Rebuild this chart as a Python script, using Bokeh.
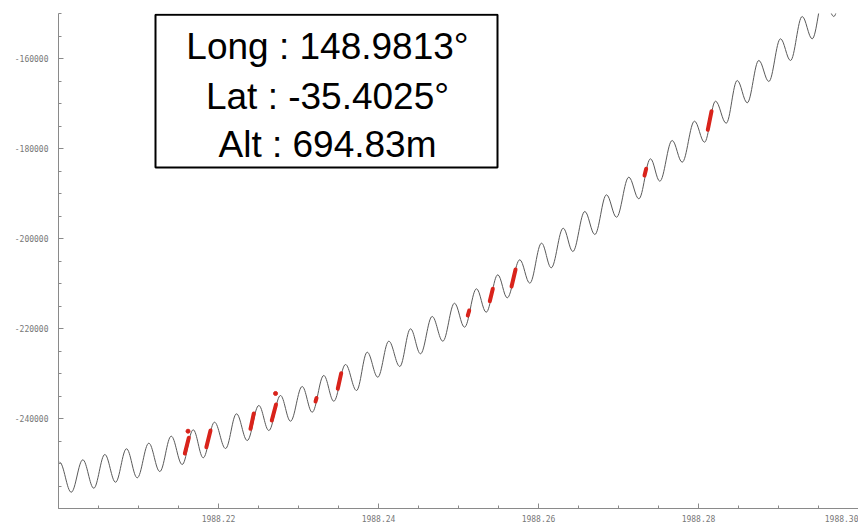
from bokeh.plotting import figure
from bokeh.models import Range1d, FixedTicker, PrintfTickFormatter, BoxAnnotation, Label
from bokeh.embed import file_html
from bokeh.resources import INLINE

# ---- data ----
peak_x = [1988.20013, 1988.20304, 1988.20579, 1988.20850, 1988.21129, 1988.21409, 1988.21684,
          1988.21950, 1988.22225, 1988.22504, 1988.22775, 1988.23046, 1988.23316, 1988.23588,
          1988.23859, 1988.24129, 1988.24400, 1988.24671, 1988.24950, 1988.25225, 1988.25491,
          1988.25766, 1988.26038, 1988.26309, 1988.26579, 1988.26850, 1988.27129, 1988.27400,
          1988.27671, 1988.27950, 1988.28213, 1988.28484, 1988.28754, 1988.29025, 1988.29296,
          1988.29566, 1988.29838]
peak_y = [-249700, -249180, -248000, -246730, -245490, -243930, -242510, -240820, -238960, -237110,
          -234890, -232890, -230440, -228000, -225270, -222820, -220070, -217330, -214380, -211180,
          -208070, -204730, -201040, -197710, -194000, -190290, -186380, -182290, -178220, -173930,
          -169490, -164890, -160440, -155620, -150670, -146000, -141110]
trough_x = [1988.20159, 1988.20441, 1988.20713, 1988.20984, 1988.21266, 1988.21546, 1988.21809,
            1988.22088, 1988.22359, 1988.22629, 1988.22900, 1988.23171, 1988.23441, 1988.23725,
            1988.23991, 1988.24266, 1988.24525, 1988.24804, 1988.25075, 1988.25346, 1988.25609,
            1988.25891, 1988.26159, 1988.26429, 1988.26704, 1988.26975, 1988.27254, 1988.27516,
            1988.27796, 1988.28075, 1988.28346, 1988.28609, 1988.28879, 1988.29150, 1988.29421,
            1988.29691]
trough_y = [-256380, -255490, -254160, -253180, -251780, -250220, -248730, -246670, -244890, -242670,
            -240600, -238600, -236160, -233780, -230820, -228440, -225620, -222820, -219710, -216380,
            -213180, -209930, -206510, -202890, -199110, -195270, -191180, -187270, -183040, -178600,
            -174380, -169840, -165110, -160440, -155620, -150670]

# highlighted (red) stretches of the track
red_x0 = [1988.21579, 1988.21848, 1988.22400, 1988.22666, 1988.23213, 1988.23491,
          1988.25116, 1988.25391, 1988.25663, 1988.27325, 1988.28116]
red_y0 = [-247780, -246380, -242290, -240440, -236220, -233400,
          -217110, -213930, -210670, -186000, -175840]
red_x1 = [1988.21629, 1988.21900, 1988.22441, 1988.22719, 1988.23225, 1988.23534,
          1988.25134, 1988.25429, 1988.25713, 1988.27346, 1988.28163]
red_y1 = [-244290, -242670, -238890, -236890, -235440, -229930,
          -216000, -211180, -206890, -184510, -171710]
dot_x = [1988.21619, 1988.22713]
dot_y = [-242820, -234440]

x_ticks = [1988.22, 1988.24, 1988.26, 1988.28, 1988.30]
y_ticks = [-240000, -220000, -200000, -180000, -160000]
info_lines = ["Long : 148.9813°", "Lat : -35.4025°", "Alt : 694.83m"]

# ---- build smooth half-wave curves between consecutive extrema ----
ext_x, ext_y = [], []
for i in range(len(peak_x)):
    ext_x.append(peak_x[i]); ext_y.append(peak_y[i])
    if i < len(trough_x):
        ext_x.append(trough_x[i]); ext_y.append(trough_y[i])

k = 0.3642
bx0, by0, bx1, by1, cx0, cy0, cx1, cy1 = [], [], [], [], [], [], [], []
for i in range(len(ext_x) - 1):
    xa, ya, xb, yb = ext_x[i], ext_y[i], ext_x[i + 1], ext_y[i + 1]
    bx0.append(xa); by0.append(ya); bx1.append(xb); by1.append(yb)
    cx0.append(xa + k * (xb - xa)); cy0.append(ya)
    cx1.append(xb - k * (xb - xa)); cy1.append(yb)

p = figure(width=858, height=525, output_backend="svg", toolbar_location=None,
           x_range=Range1d(1988.20, 1988.30), y_range=Range1d(-260000, -150000),
           min_border_left=58, min_border_right=0, min_border_top=13, min_border_bottom=17)
p.outline_line_color = None
p.xgrid.visible = False
p.ygrid.visible = False
p.background_fill_color = "white"
p.border_fill_color = "white"

p.bezier(x0=bx0, y0=by0, x1=bx1, y1=by1, cx0=cx0, cy0=cy0, cx1=cx1, cy1=cy1,
         line_color="#5a5a5a", line_width=1)
p.segment(x0=red_x0, y0=red_y0, x1=red_x1, y1=red_y1, line_color="#d9231b",
          line_width=4, line_cap="round")
p.scatter(dot_x, dot_y, size=4, color="#d9231b")

minor_x = [1988.20 + 0.005 * i for i in range(21)]
minor_y = [-260000 + 5000 * i for i in range(23)]
p.xaxis.ticker = FixedTicker(ticks=x_ticks, minor_ticks=minor_x)
p.yaxis.ticker = FixedTicker(ticks=y_ticks, minor_ticks=minor_y)
p.xaxis.formatter = PrintfTickFormatter(format="%.2f")
p.yaxis.formatter = PrintfTickFormatter(format="%d")
for ax in (p.xaxis, p.yaxis):
    ax.axis_line_color = "#8a8a8a"
    ax.major_tick_line_color = "#8a8a8a"
    ax.minor_tick_line_color = "#8a8a8a"
    ax.major_tick_in = 5
    ax.major_tick_out = 0
    ax.minor_tick_in = 3
    ax.minor_tick_out = 0
    ax.major_label_text_font = "DejaVu Sans Mono"
    ax.major_label_text_font_size = "8px"
    ax.major_label_text_color = "#777777"
p.xaxis.major_label_standoff = 6
p.yaxis.major_label_standoff = 10

box = BoxAnnotation(left=1988.212125, right=1988.254875, top=-150250, bottom=-184222,
                    fill_color="white", fill_alpha=1.0, line_color="black",
                    line_alpha=1.0, line_width=2)
p.add_layout(box)
for txt, yb in zip(info_lines, [-157333, -168445, -179111]):
    p.add_layout(Label(x=1988.233625, y=yb, text=txt, text_align="center",
                       text_baseline="alphabetic", text_font="Liberation Sans",
                       text_font_size="37px", text_color="black"))

open("out.html", "w").write(file_html(p, INLINE))
